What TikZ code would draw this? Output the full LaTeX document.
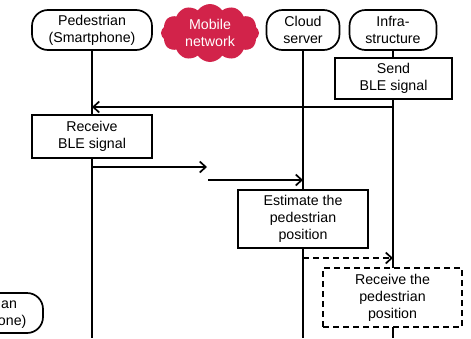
\documentclass[tikz,border=0pt]{standalone}
\usepackage{fontspec}
\setmainfont{Liberation Sans}
\usetikzlibrary{arrows.meta,shapes.symbols,backgrounds}
\definecolor{netred}{HTML}{D2234A}
\tikzset{
  txt/.style={font=\fontsize{14.2}{17}\selectfont, align=center, inner sep=0pt},
  actor/.style={txt, draw, line width=1.7pt, rounded corners=16pt, fill=white,
    minimum height=40pt},
  task/.style={txt, draw, line width=1.7pt, fill=white},
  dtask/.style={task, dash pattern=on 6pt off 4pt},
  life/.style={line width=1.8pt},
  msg/.style={line width=1.8pt, -{Straight Barb[length=6pt,width=11pt,line width=1.7pt]}},
  dmsg/.style={msg, dash pattern=on 6pt off 4pt},
}
\begin{document}
\begin{tikzpicture}[x=1pt,y=-1pt]
\useasboundingbox (0,0) rectangle (471,338);
\clip (0,0) rectangle (471,338);

% lane headers
\node[actor, minimum width=120pt] (ped) at (92,30) {Pedestrian\\(Smartphone)};
\node[cloud, cloud puffs=12, cloud puff arc=110, aspect=1.7, fill=netred,
      minimum width=98pt, minimum height=58pt, txt, text=white] (net) at (210,33)
      {Mobile\\network};
\node[actor, minimum width=73pt] (srv) at (303,30) {Cloud\\server};
\node[actor, minimum width=87pt] (inf) at (393,30) {Infra-\\structure};

% a header of the neighbouring chart, cut by the edge
\node[actor, minimum width=120pt] (ped2) at (-17,313) {Pedestrian\\(Smartphone)};

% steps
\node[task, minimum width=117pt, minimum height=41pt] (send) at (393.5,78.5) {Send\\BLE signal};
\node[task, minimum width=120pt, minimum height=43pt] (recv) at (92,136.5) {Receive\\BLE signal};
\node[task, minimum width=130pt, minimum height=58pt] (est) at (303,219) {Estimate the\\pedestrian\\position};
\node[dtask, minimum width=139pt, minimum height=59pt] (rpos) at (392.5,297.5) {Receive the\\pedestrian\\position};

% lifeline ends and message points
\coordinate (pedEnd) at (92,338);
\coordinate (srvEnd) at (303,338);
\coordinate (infEnd) at (393,338);
\coordinate (m1a) at (393,107);
\coordinate (m1b) at (92,107);
\coordinate (m2a) at (92,167);
\coordinate (m2b) at (207,167);
\coordinate (m3a) at (208,180);
\coordinate (m3b) at (303,180);
\coordinate (m4a) at (303,258);
\coordinate (m4b) at (393,258);

\begin{scope}[on background layer]
  \draw[life] (ped) -- (pedEnd);
  \draw[life] (srv) -- (srvEnd);
  \draw[life] (inf) -- (infEnd);
\end{scope}

% messages
\draw[msg] (m1a) -- (m1b);
\draw[msg] (m2a) -- (m2b);
\draw[msg] (m3a) -- (m3b);
\draw[dmsg] (m4a) -- (m4b);
\end{tikzpicture}
\end{document}
